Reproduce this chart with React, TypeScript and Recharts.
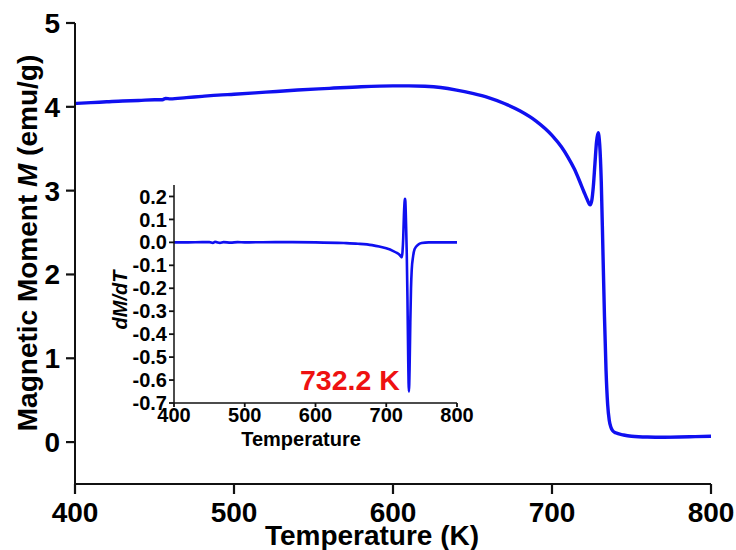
import React from 'react';
import { LineChart, Line, XAxis, YAxis } from 'recharts';

// Main curve: magnetic moment M (emu/g) vs temperature (K)
const mainTemps = [400, 410, 420, 430, 440, 450, 455, 457, 460, 470, 480, 490, 500, 520, 540, 560, 580, 600, 610, 620, 630, 640, 650, 660, 670, 680, 690, 700, 706, 710, 714, 717, 720, 722, 724, 725, 726, 727, 728, 729, 730, 731, 732, 733, 734, 735, 736, 737, 738, 740, 745, 750, 760, 770, 780, 790, 800];
const mainMoment = [4.04, 4.05, 4.06, 4.07, 4.075, 4.085, 4.085, 4.1, 4.095, 4.11, 4.125, 4.14, 4.15, 4.175, 4.2, 4.22, 4.24, 4.25, 4.25, 4.245, 4.23, 4.2, 4.16, 4.11, 4.04, 3.95, 3.83, 3.66, 3.52, 3.4, 3.26, 3.13, 2.99, 2.9, 2.83, 2.88, 3.05, 3.32, 3.58, 3.69, 3.55, 3.1, 2.3, 1.5, 0.85, 0.45, 0.26, 0.18, 0.14, 0.11, 0.085, 0.07, 0.06, 0.058, 0.06, 0.065, 0.07];

// Inset: dM/dT vs temperature
const insetTemps = [400, 420, 440, 450, 455, 458, 460, 465, 470, 480, 490, 500, 550, 600, 640, 660, 680, 690, 700, 710, 715, 719, 721, 722, 723, 724, 725, 726, 726.5, 727, 728, 729, 730, 731, 732, 733, 734, 735, 736, 738, 740, 745, 750, 760, 780, 800];
const insetDeriv = [0, 0, 0.001, 0.001, -0.002, 0.002, 0.001, -0.002, 0.001, -0.001, 0.001, 0, 0.001, 0, -0.003, -0.006, -0.012, -0.018, -0.026, -0.038, -0.046, -0.055, -0.062, -0.065, -0.04, 0.02, 0.12, 0.18, 0.19, 0.18, 0.08, -0.05, -0.25, -0.5, -0.65, -0.55, -0.35, -0.2, -0.12, -0.06, -0.03, -0.01, -0.003, 0, 0, 0];

// Ticks
const mainXMajor = [400, 500, 600, 700, 800];
const mainXMinor = [450, 550, 650, 750];
const mainYMajor = [0, 1, 2, 3, 4, 5];
const mainYMinor = [0.5, 1.5, 2.5, 3.5, 4.5];
const insetXMajor = [400, 500, 600, 700, 800];
const insetXMinor = [450, 550, 650, 750];
const insetYMajor = [-0.7, -0.6, -0.5, -0.4, -0.3, -0.2, -0.1, 0, 0.1, 0.2];
const insetYMinor = [-0.65, -0.55, -0.45, -0.35, -0.25, -0.15, -0.05, 0.05, 0.15];

// Texts
const mainXTitle = 'Temperature (K)';
const mainYTitleParts = ['Magnetic Moment ', 'M', ' (emu/g)'];
const insetXTitle = 'Temperature';
const insetYTitle = 'dM/dT';
const curieLabel = '732.2 K';

const mainData = mainTemps.map((t, i) => ({ t, m: mainMoment[i] }));
const insetData = insetTemps.map((t, i) => ({ t, d: insetDeriv[i] }));

const FONT = '"Liberation Sans", Arial, Helvetica, sans-serif';
const BLUE = '#1010f0';

const mainTickFont = { fill: '#000', fontSize: 28, fontWeight: 'bold', fontFamily: FONT };
const insetTickFont = { fill: '#000', fontSize: 20, fontWeight: 'bold', fontFamily: FONT };

export default function App() {
  const mainLine = { stroke: '#111', strokeWidth: 2 };
  const mainTick = { stroke: '#111', strokeWidth: 2.2 };
  const insetLine = { stroke: '#111', strokeWidth: 1.5 };
  const insetTick = { stroke: '#111', strokeWidth: 1.8 };
  return (
    <div style={{ position: 'absolute', left: 0, top: 0, width: 736, height: 550, background: '#fff' }}>
      <LineChart width={736} height={550} data={mainData} margin={{ top: 23, right: 25, left: 0, bottom: 0 }}>
        <XAxis xAxisId="aminor" type="number" domain={[400, 800]} ticks={mainXMinor} interval={0} height={0} tickSize={5} tick={false} axisLine={false} stroke="#111" tickLine={mainTick} />
        <XAxis
          xAxisId="bmain"
          dataKey="t"
          type="number"
          domain={[400, 800]}
          ticks={mainXMajor}
          interval={0}
          height={66}
          tickSize={10}
          tickMargin={8}
          stroke="#111"
          tickLine={mainTick}
          tick={mainTickFont}
          axisLine={mainLine}
          allowDataOverflow
        />
        <XAxis xAxisId="top" orientation="top" type="number" domain={[400, 800]} height={0} tick={false} tickLine={false} axisLine={mainLine} />
        <YAxis yAxisId="aminor" type="number" domain={[-0.5, 5]} ticks={mainYMinor} interval={0} width={0} tickSize={5} tick={false} axisLine={false} stroke="#111" tickLine={mainTick} />
        <YAxis
          yAxisId="bmain"
          type="number"
          domain={[-0.5, 5]}
          ticks={mainYMajor}
          interval={0}
          width={75}
          tickSize={9}
          tickMargin={6}
          stroke="#111"
          tickLine={mainTick}
          tick={mainTickFont}
          axisLine={mainLine}
          allowDataOverflow
        />
        <YAxis yAxisId="right" orientation="right" type="number" domain={[-0.5, 5]} width={0} tick={false} tickLine={false} axisLine={mainLine} />
        <Line xAxisId="bmain" yAxisId="bmain" type="monotone" dataKey="m" stroke={BLUE} strokeWidth={3.4} dot={false} isAnimationActive={false} />
      </LineChart>

      <div style={{ position: 'absolute', left: 100, top: 170, width: 400, height: 290 }}>
        <LineChart width={400} height={290} data={insetData} margin={{ top: 15, right: 43, left: 0, bottom: 0 }}>
          <XAxis xAxisId="aminor" type="number" domain={[400, 800]} ticks={insetXMinor} interval={0} height={0} mirror tickSize={3} tick={false} axisLine={false} stroke="#111" tickLine={insetTick} />
          <XAxis
            xAxisId="bmain"
            dataKey="t"
            type="number"
            domain={[400, 800]}
            ticks={insetXMajor}
            interval={0}
            height={57}
            tickSize={4}
            tickMargin={1}
            stroke="#111"
            tickLine={insetTick}
            tick={insetTickFont}
            axisLine={insetLine}
            allowDataOverflow
          />
          <XAxis xAxisId="top" orientation="top" type="number" domain={[400, 800]} height={0} tick={false} tickLine={false} axisLine={insetLine} />
          <YAxis yAxisId="aminor" type="number" domain={[-0.7, 0.25]} ticks={insetYMinor} interval={0} width={0} tickSize={3} tick={false} axisLine={false} stroke="#111" tickLine={insetTick} />
          <YAxis
            yAxisId="bmain"
            type="number"
            domain={[-0.7, 0.25]}
            ticks={insetYMajor}
            interval={0}
            width={74}
            tickSize={5}
            tickMargin={2}
            stroke="#111"
            tickLine={insetTick}
            tick={insetTickFont}
            tickFormatter={(v: number) => v.toFixed(1)}
            axisLine={insetLine}
            allowDataOverflow
          />
          <YAxis yAxisId="right" orientation="right" type="number" domain={[-0.7, 0.25]} width={0} tick={false} tickLine={false} axisLine={insetLine} />
          <Line xAxisId="bmain" yAxisId="bmain" type="monotone" dataKey="d" stroke={BLUE} strokeWidth={2.6} dot={false} isAnimationActive={false} />
        </LineChart>
      </div>

      <svg width={736} height={550} style={{ position: 'absolute', left: 0, top: 0, pointerEvents: 'none' }}>
        <text x={372} y={545} textAnchor="middle" fontFamily={FONT} fontWeight="bold" fontSize={28} fill="#000">
          {mainXTitle}
        </text>
        <text x={0} y={0} transform="translate(37 243) rotate(-90)" textAnchor="middle" fontFamily={FONT} fontWeight="bold" fontSize={28} fill="#000">
          <tspan>{mainYTitleParts[0]}</tspan>
          <tspan fontStyle="italic">{mainYTitleParts[1]}</tspan>
          <tspan>{mainYTitleParts[2]}</tspan>
        </text>
        <text x={301} y={446} textAnchor="middle" fontFamily={FONT} fontWeight="bold" fontSize={20} fill="#000">
          {insetXTitle}
        </text>
        <text x={0} y={0} transform="translate(127 300) rotate(-90)" textAnchor="middle" fontFamily={FONT} fontWeight="bold" fontStyle="italic" fontSize={20} fill="#000">
          {insetYTitle}
        </text>
        <text x={300} y={390} textAnchor="start" fontFamily={FONT} fontWeight="bold" fontSize={28.5} fill="#ee1111">
          {curieLabel}
        </text>
      </svg>
    </div>
  );
}
